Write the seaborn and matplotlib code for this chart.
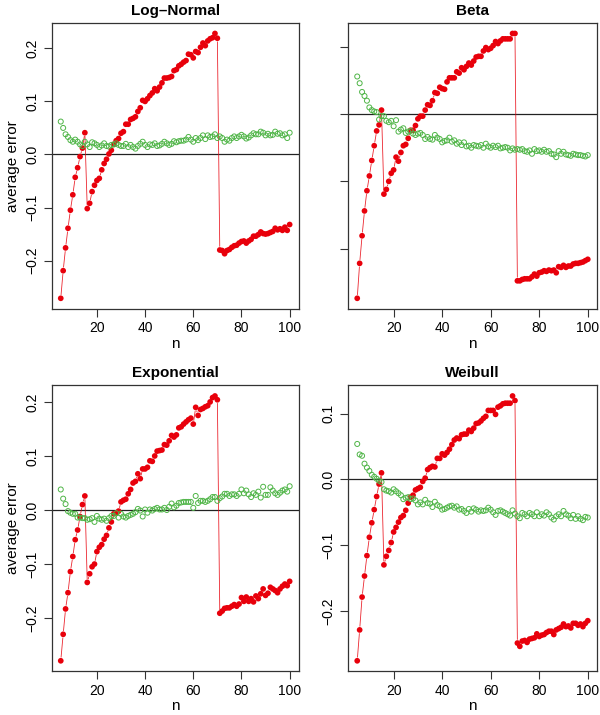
import numpy as np
import pandas as pd
import seaborn as sns
import matplotlib
matplotlib.use("Agg")
import matplotlib.pyplot as plt

# sample sizes
n = list(range(5, 101))

# ---- Log-Normal ----
lognormal_red = [
    -0.271, -0.219, -0.176, -0.139, -0.105, -0.076, -0.043, -0.025, -0.004, 0.012,
    0.041, -0.102, -0.092, -0.070, -0.058, -0.049, -0.045, -0.029, -0.017, -0.009,
    0.001, 0.008, 0.019, 0.026, 0.030, 0.040, 0.043, 0.057, 0.057, 0.066,
    0.068, 0.071, 0.081, 0.088, 0.102, 0.100, 0.105, 0.111, 0.116, 0.124,
    0.120, 0.127, 0.135, 0.144, 0.144, 0.145, 0.147, 0.158, 0.160, 0.167,
    0.170, 0.174, 0.177, 0.189, 0.188, 0.182, 0.194, 0.192, 0.202, 0.210,
    0.205, 0.214, 0.218, 0.220, 0.228, 0.219, -0.180, -0.181, -0.187, -0.181,
    -0.179, -0.175, -0.172, -0.171, -0.167, -0.164, -0.163, -0.167, -0.163, -0.160,
    -0.154, -0.154, -0.151, -0.146, -0.149, -0.150, -0.149, -0.147, -0.145, -0.139,
    -0.142, -0.140, -0.143, -0.137, -0.143, -0.132]
lognormal_green = [
    0.062, 0.050, 0.038, 0.033, 0.027, 0.024, 0.028, 0.024, 0.019, 0.016,
    0.024, 0.019, 0.014, 0.023, 0.021, 0.018, 0.014, 0.017, 0.021, 0.016,
    0.015, 0.018, 0.019, 0.021, 0.018, 0.016, 0.016, 0.020, 0.014, 0.018,
    0.014, 0.011, 0.016, 0.020, 0.024, 0.018, 0.014, 0.019, 0.018, 0.021,
    0.016, 0.017, 0.020, 0.024, 0.021, 0.018, 0.020, 0.025, 0.023, 0.025,
    0.026, 0.026, 0.028, 0.033, 0.028, 0.024, 0.031, 0.027, 0.031, 0.036,
    0.029, 0.036, 0.033, 0.034, 0.038, 0.031, 0.034, 0.031, 0.024, 0.028,
    0.026, 0.031, 0.034, 0.031, 0.034, 0.037, 0.034, 0.030, 0.032, 0.036,
    0.040, 0.038, 0.038, 0.043, 0.041, 0.036, 0.039, 0.036, 0.037, 0.043,
    0.039, 0.040, 0.036, 0.038, 0.031, 0.041]

# ---- Beta ----
beta_red = [
    -0.274, -0.222, -0.181, -0.144, -0.114, -0.092, -0.069, -0.047, -0.025, -0.016,
    0.006, -0.119, -0.112, -0.100, -0.088, -0.083, -0.064, -0.070, -0.057, -0.047,
    -0.045, -0.036, -0.024, -0.024, -0.017, -0.007, -0.003, -0.003, 0.006, 0.014,
    0.013, 0.020, 0.032, 0.031, 0.040, 0.038, 0.037, 0.048, 0.054, 0.054,
    0.054, 0.063, 0.061, 0.069, 0.066, 0.071, 0.076, 0.073, 0.079, 0.085,
    0.086, 0.086, 0.094, 0.099, 0.096, 0.098, 0.102, 0.108, 0.105, 0.109,
    0.112, 0.112, 0.112, 0.112, 0.120, 0.120, -0.248, -0.248, -0.246, -0.245,
    -0.245, -0.245, -0.242, -0.238, -0.241, -0.236, -0.235, -0.233, -0.234, -0.232,
    -0.233, -0.232, -0.236, -0.227, -0.228, -0.225, -0.228, -0.226, -0.226, -0.223,
    -0.222, -0.222, -0.221, -0.220, -0.218, -0.216]
beta_green = [
    0.056, 0.046, 0.033, 0.027, 0.020, 0.010, 0.006, 0.004, 0.003, -0.008,
    -0.003, -0.003, -0.010, -0.012, -0.010, -0.018, -0.009, -0.026, -0.023, -0.021,
    -0.028, -0.026, -0.025, -0.029, -0.031, -0.029, -0.028, -0.031, -0.037, -0.034,
    -0.037, -0.038, -0.031, -0.035, -0.037, -0.042, -0.040, -0.039, -0.035, -0.041,
    -0.039, -0.044, -0.042, -0.046, -0.042, -0.048, -0.047, -0.050, -0.046, -0.047,
    -0.048, -0.046, -0.050, -0.044, -0.048, -0.050, -0.047, -0.049, -0.047, -0.051,
    -0.050, -0.049, -0.050, -0.054, -0.051, -0.053, -0.052, -0.053, -0.052, -0.055,
    -0.056, -0.054, -0.059, -0.052, -0.055, -0.054, -0.056, -0.053, -0.056, -0.055,
    -0.059, -0.060, -0.064, -0.055, -0.059, -0.056, -0.060, -0.061, -0.062, -0.059,
    -0.060, -0.061, -0.061, -0.062, -0.063, -0.061]

# ---- Exponential ----
exponential_red = [
    -0.279, -0.230, -0.183, -0.153, -0.114, -0.086, -0.055, -0.037, -0.012, 0.010,
    0.026, -0.134, -0.118, -0.105, -0.100, -0.077, -0.069, -0.064, -0.054, -0.047,
    -0.033, -0.022, -0.007, -0.006, -0.002, 0.015, 0.018, 0.020, 0.030, 0.038,
    0.050, 0.053, 0.067, 0.058, 0.076, 0.076, 0.079, 0.091, 0.090, 0.100,
    0.109, 0.110, 0.111, 0.121, 0.120, 0.128, 0.138, 0.135, 0.139, 0.152,
    0.154, 0.159, 0.163, 0.167, 0.170, 0.159, 0.190, 0.175, 0.186, 0.188,
    0.191, 0.193, 0.200, 0.208, 0.211, 0.204, -0.191, -0.187, -0.182, -0.181,
    -0.181, -0.178, -0.175, -0.178, -0.174, -0.162, -0.169, -0.161, -0.169, -0.164,
    -0.170, -0.159, -0.164, -0.155, -0.146, -0.158, -0.154, -0.143, -0.146, -0.149,
    -0.153, -0.146, -0.141, -0.137, -0.140, -0.132]
exponential_green = [
    0.038, 0.021, 0.011, -0.002, -0.005, -0.007, -0.007, -0.014, -0.014, -0.015,
    -0.015, -0.018, -0.017, -0.015, -0.022, -0.011, -0.016, -0.018, -0.016, -0.020,
    -0.015, -0.011, -0.011, -0.006, -0.014, -0.007, -0.012, -0.014, -0.011, -0.009,
    -0.007, -0.004, 0.002, -0.001, -0.012, 0.001, -0.005, 0.001, -0.001, 0.002,
    0.004, 0.001, 0.001, 0.004, 0.000, 0.006, 0.012, 0.005, 0.008, 0.013,
    0.014, 0.015, 0.015, 0.015, 0.015, 0.004, 0.026, 0.013, 0.017, 0.017,
    0.015, 0.017, 0.020, 0.024, 0.024, 0.017, 0.022, 0.025, 0.030, 0.030,
    0.026, 0.029, 0.029, 0.026, 0.030, 0.038, 0.031, 0.036, 0.029, 0.024,
    0.031, 0.028, 0.034, 0.023, 0.043, 0.028, 0.028, 0.042, 0.036, 0.031,
    0.028, 0.032, 0.036, 0.038, 0.034, 0.044]

# ---- Weibull ----
weibull_red = [
    -0.276, -0.229, -0.179, -0.147, -0.116, -0.088, -0.066, -0.046, -0.026, -0.007,
    0.010, -0.130, -0.117, -0.108, -0.096, -0.080, -0.073, -0.065, -0.058, -0.055,
    -0.047, -0.036, -0.027, -0.024, -0.016, -0.014, -0.012, -0.003, 0.002, 0.015,
    0.018, 0.020, 0.019, 0.032, 0.032, 0.039, 0.037, 0.041, 0.046, 0.053,
    0.060, 0.063, 0.062, 0.068, 0.069, 0.069, 0.075, 0.073, 0.078, 0.085,
    0.086, 0.089, 0.093, 0.096, 0.105, 0.105, 0.105, 0.099, 0.110, 0.112,
    0.115, 0.116, 0.116, 0.116, 0.127, 0.120, -0.249, -0.254, -0.246, -0.245,
    -0.248, -0.243, -0.242, -0.241, -0.235, -0.239, -0.237, -0.236, -0.233, -0.231,
    -0.231, -0.236, -0.229, -0.227, -0.225, -0.220, -0.224, -0.223, -0.226, -0.219,
    -0.219, -0.222, -0.220, -0.224, -0.219, -0.215]
weibull_green = [
    0.054, 0.038, 0.036, 0.024, 0.018, 0.013, 0.007, 0.004, 0.001, -0.002,
    -0.004, -0.015, -0.017, -0.018, -0.020, -0.015, -0.018, -0.021, -0.024, -0.030,
    -0.028, -0.027, -0.030, -0.029, -0.032, -0.038, -0.035, -0.038, -0.031, -0.036,
    -0.037, -0.042, -0.034, -0.039, -0.041, -0.046, -0.045, -0.043, -0.041, -0.040,
    -0.043, -0.041, -0.046, -0.045, -0.048, -0.051, -0.045, -0.049, -0.044, -0.046,
    -0.049, -0.047, -0.048, -0.047, -0.043, -0.046, -0.050, -0.054, -0.048, -0.047,
    -0.049, -0.051, -0.053, -0.055, -0.047, -0.052, -0.056, -0.059, -0.051, -0.053,
    -0.056, -0.051, -0.053, -0.056, -0.050, -0.056, -0.053, -0.055, -0.050, -0.053,
    -0.058, -0.061, -0.056, -0.053, -0.056, -0.048, -0.053, -0.055, -0.059, -0.054,
    -0.060, -0.056, -0.060, -0.062, -0.057, -0.058]

titles = ["Log\u2013Normal", "Beta", "Exponential", "Weibull"]
red_series = [lognormal_red, beta_red, exponential_red, weibull_red]
green_series = [lognormal_green, beta_green, exponential_green, weibull_green]

sns.set_theme(style="ticks")
plt.rcParams["font.family"] = ["Liberation Sans", "DejaVu Sans"]
plt.rcParams["text.color"] = "black"
plt.rcParams["axes.labelcolor"] = "black"
plt.rcParams["xtick.color"] = "black"
plt.rcParams["ytick.color"] = "black"

RED = "#E8000B"
GREEN = "#4FB547"
FRAME = "#333333"
GAP = 2.6  # points of gap around each point, like R's type = "b"

fig = plt.figure(figsize=(6, 7.15), dpi=100)
# axes boxes (left, bottom, width, height) in figure fractions
boxes = [
    (0.086, 0.568, 0.412, 0.400),
    (0.580, 0.568, 0.415, 0.400),
    (0.086, 0.061, 0.412, 0.400),
    (0.580, 0.061, 0.415, 0.400),
]

for i, (title, red, green) in enumerate(zip(titles, red_series, green_series)):
    ax = fig.add_axes(boxes[i])
    df = pd.DataFrame({"n": n, "red": red, "green": green})

    sns.scatterplot(data=df, x="n", y="red", ax=ax, color=RED, s=17,
                    edgecolor="none", linewidth=0, zorder=3)
    sns.scatterplot(data=df, x="n", y="green", ax=ax, facecolor="none",
                    edgecolor=GREEN, s=13, linewidth=0.7, zorder=4)
    ax.axhline(0, color="#222222", lw=0.9, zorder=1)

    # R-style 4% padding on both axes
    lo = min(min(red), min(green))
    hi = max(max(red), max(green))
    pad = (hi - lo) * 0.04
    ax.set_ylim(lo - pad, hi + pad)
    ax.set_xlim(5 - 95 * 0.04, 100 + 95 * 0.04)

    # connecting segments with gaps around the points
    pts = ax.transData.transform(np.column_stack([n, red]))
    for k in range(len(n) - 1):
        dist_pt = np.hypot(*(pts[k + 1] - pts[k])) * 72 / fig.dpi
        if dist_pt > 2 * GAP + 0.5:
            ax.annotate("", xy=(n[k + 1], red[k + 1]), xytext=(n[k], red[k]),
                        arrowprops=dict(arrowstyle="-", color=RED, lw=0.6,
                                        alpha=0.85, shrinkA=GAP, shrinkB=GAP),
                        zorder=2)

    ax.set_xticks([20, 40, 60, 80, 100])
    if i == 0 or i == 2:
        ax.set_yticks([-0.2, -0.1, 0.0, 0.1, 0.2])
        ax.set_yticklabels(["\u22120.2", "\u22120.1", "0.0", "0.1", "0.2"],
                           rotation=90, va="center")
        ax.set_ylabel("average error", fontsize=11, labelpad=4)
    elif i == 1:
        ax.set_yticks([-0.2, -0.1, 0.0, 0.1])
        ax.set_yticklabels([])
        ax.set_ylabel("")
    else:
        ax.set_yticks([-0.2, -0.1, 0.0, 0.1])
        ax.set_yticklabels(["\u22120.2", "\u22120.1", "0.0", "0.1"],
                           rotation=90, va="center")
        ax.set_ylabel("")

    ax.set_xlabel("n", fontsize=11, labelpad=1)
    ax.set_title(title, fontsize=11, fontweight="bold", pad=6)
    ax.tick_params(axis="both", direction="out", length=6, width=0.8,
                   color=FRAME, labelsize=10, pad=3)
    for sp in ax.spines.values():
        sp.set_color(FRAME)
        sp.set_linewidth(0.9)

fig.savefig("out.png", dpi=100)
